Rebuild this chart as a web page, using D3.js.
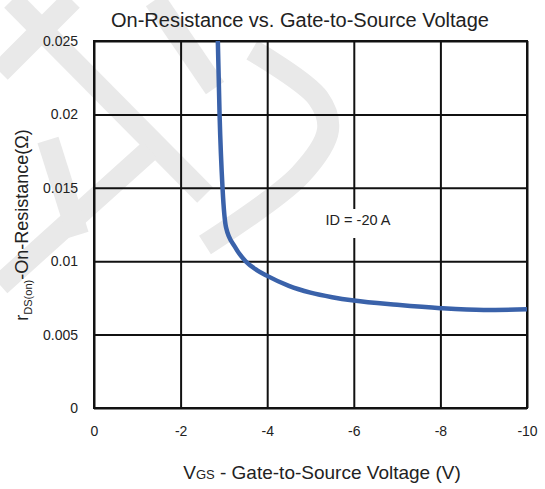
<!DOCTYPE html>
<html>
<head>
<meta charset="utf-8">
<script src="https://cdn.jsdelivr.net/npm/d3@7"></script>
<style>
  html, body { margin: 0; padding: 0; background: #fff; }
  svg { display: block; font-family: "Liberation Sans", Arial, Helvetica, sans-serif; }
</style>
</head>
<body>
<svg id="chart" width="545" height="489"></svg>
<script>
// ---- data ----
const vgs = [-2.86, -2.90, -2.97, -3.05, -3.25, -3.50, -3.76, -4.0, -4.5, -5.0, -5.5, -6.0, -7.0, -8.0, -9.0, -10.0];
const rds = [0.025, 0.020, 0.0149, 0.0123, 0.0110, 0.0100, 0.0094, 0.0090, 0.00832, 0.00786, 0.00755, 0.00732, 0.00703, 0.00680, 0.00668, 0.00672];
const xTicks = [0, -2, -4, -6, -8, -10];
const xTickLabels = ["0", "-2", "-4", "-6", "-8", "-10"];
const yTicks = [0, 0.005, 0.01, 0.015, 0.02, 0.025];
const yTickLabels = ["0", "0.005", "0.01", "0.015", "0.02", "0.025"];
const titleText = "On-Resistance vs. Gate-to-Source Voltage";
const annotation = "ID = -20 A";

(function () {
// ---- layout ----
const svg = d3.select("#chart");
const pLeft = 94, pRight = 527, pTop = 41, pBottom = 408;
const x = d3.scaleLinear().domain([0, -10]).range([pLeft, pRight]);
const y = d3.scaleLinear().domain([0, 0.025]).range([pBottom, pTop]);

// watermark (decorative light strokes)
const wm = svg.append("g").attr("fill", "none").attr("stroke", "#e9e9e9")
  .attr("stroke-width", 22).attr("stroke-linecap", "butt").attr("stroke-linejoin", "round");
const wmPaths = [
  [[12, 0], [205, 195]],
  [[72, 0], [0, 72]],
  [[155, 0], [215, 88]],
  [[0, 285], [150, 150]],
  [[48, 140], [78, 235]],
  [[252, 50], [318, 98], [328, 130], [300, 175], [205, 245]]
];
wmPaths.forEach(p => wm.append("path").attr("d", d3.line().curve(d3.curveCatmullRom)(p)));

// title
svg.append("text").attr("x", 300).attr("y", 27).attr("text-anchor", "middle")
  .attr("font-size", 20).attr("fill", "#222").text(titleText);

// grid via axes
const gx = svg.append("g").attr("transform", `translate(0,${pBottom})`)
  .call(d3.axisBottom(x).tickValues(xTicks).tickSize(-(pBottom - pTop)).tickPadding(18)
    .tickFormat((d, i) => xTickLabels[i]));
gx.select(".domain").remove();
gx.selectAll(".tick line").attr("stroke", "#111").attr("stroke-width", 2);
gx.selectAll(".tick text").attr("font-size", 14).attr("fill", "#222")
  .attr("font-family", "Liberation Sans, Arial, sans-serif");

const gy = svg.append("g").attr("transform", `translate(${pLeft},0)`)
  .call(d3.axisLeft(y).tickValues(yTicks).tickSize(-(pRight - pLeft)).tickPadding(16)
    .tickFormat((d, i) => yTickLabels[i]));
gy.select(".domain").remove();
gy.selectAll(".tick line").attr("stroke", "#111").attr("stroke-width", 2);
gy.selectAll(".tick text").attr("font-size", 14).attr("fill", "#222")
  .attr("font-family", "Liberation Sans, Arial, sans-serif");

// frame
svg.append("rect").attr("x", pLeft).attr("y", pTop).attr("width", pRight - pLeft).attr("height", pBottom - pTop)
  .attr("fill", "none").attr("stroke", "#111").attr("stroke-width", 2);

// annotation with white backing
const ann = svg.append("g");
ann.append("rect").attr("x", 319).attr("y", 209).attr("width", 80).attr("height", 29).attr("fill", "#fff");
ann.append("text").attr("x", 358).attr("y", 225).attr("text-anchor", "middle")
  .attr("font-size", 14.5).attr("fill", "#222").text(annotation);

// curve
const pts = vgs.map((v, i) => [v, rds[i]]);
svg.append("path").datum(pts)
  .attr("fill", "none").attr("stroke", "#3a62aa").attr("stroke-width", 4.5)
  .attr("stroke-linecap", "butt").attr("stroke-linejoin", "round")
  .attr("d", d3.line().x(d => x(d[0])).y(d => y(d[1])).curve(d3.curveMonotoneX));

// x-axis title
const xt = svg.append("text").attr("x", 322).attr("y", 479).attr("text-anchor", "middle")
  .attr("font-size", 19).attr("fill", "#222");
xt.append("tspan").text("V");
xt.append("tspan").attr("font-size", 13).text("GS");
xt.append("tspan").text(" - Gate-to-Source Voltage (V)");

// y-axis title
const yt = svg.append("text").attr("transform", "translate(28,225) rotate(-90)")
  .attr("text-anchor", "middle").attr("font-size", 18).attr("fill", "#222");
yt.append("tspan").text("r");
yt.append("tspan").attr("font-size", 11).attr("dy", 4).text("DS(on)");
yt.append("tspan").attr("dy", -4).text("-On-Resistance(Ω)");
})();
</script>
</body>
</html>
